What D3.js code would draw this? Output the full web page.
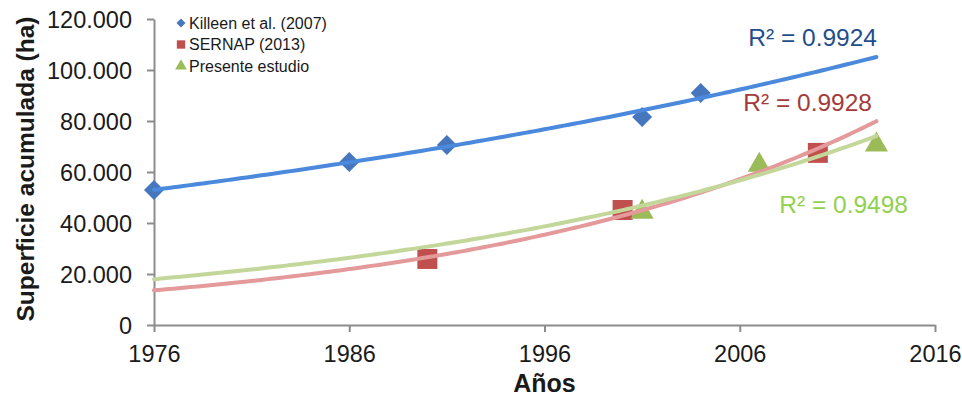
<!DOCTYPE html>
<html>
<head>
<meta charset="utf-8">
<script src="https://cdn.jsdelivr.net/npm/d3@7"></script>
<style>
  body { margin: 0; background: #fff; }
  svg text { font-family: "Liberation Sans", Arial, sans-serif; }
</style>
</head>
<body>
<div id="chart"></div>
<script>
// data
const killeenYears   = [1976, 1986, 1991, 2001, 2004];
const killeenValues  = [52900, 63900, 70600, 81600, 91000];
const sernapYears    = [1990, 2000, 2010];
const sernapValues   = [25900, 45100, 67500];
const presenteYears  = [2001, 2007, 2013];
const presenteValues = [45100, 63500, 71400];

const seriesNames = ['Killeen et al. (2007)', 'SERNAP (2013)', 'Presente estudio'];
const r2Labels    = ['R² = 0.9924', 'R² = 0.9928', 'R² = 0.9498'];
const xTicks      = [1976, 1986, 1996, 2006, 2016];
const yTicks      = [0, 20000, 40000, 60000, 80000, 100000, 120000];
const trendRange  = [1976, 2013];

const width = 962, height = 400;
const margin = { top: 19, right: 27, bottom: 75, left: 154 };

const svg = d3.select('#chart').append('svg')
  .attr('width', width)
  .attr('height', height);

const x = d3.scaleLinear().domain([1976, 2016]).range([margin.left, width - margin.right]);
const y = d3.scaleLinear().domain([0, 120000]).range([height - margin.bottom, margin.top]);

const locale = d3.formatLocale({ decimal: ',', thousands: '.', grouping: [3], currency: ['', ''] });
const fmt = locale.format(',');

// axes
const xAxis = svg.append('g')
  .attr('transform', `translate(0,${y(0)})`)
  .call(d3.axisBottom(x).tickValues(xTicks).tickFormat(d3.format('d')).tickSize(7).tickSizeOuter(0));
const yAxis = svg.append('g')
  .attr('transform', `translate(${x(1976)},0)`)
  .call(d3.axisLeft(y).tickValues(yTicks).tickFormat(fmt).tickSize(7).tickSizeOuter(0));

[xAxis, yAxis].forEach(g => {
  g.select('.domain').attr('stroke', '#8c8c8c').attr('stroke-width', 2);
  g.selectAll('.tick line').attr('stroke', '#8c8c8c').attr('stroke-width', 2);
  g.selectAll('.tick text').attr('fill', '#1a1a1a').style('font-size', '23.5px');
});
xAxis.selectAll('.tick text').attr('y', 37).attr('dy', 0);
yAxis.selectAll('.tick text').attr('x', -22).attr('dy', '0.35em');

// axis titles
svg.append('text')
  .attr('x', (x(1976) + x(2016)) / 2)
  .attr('y', 392)
  .attr('text-anchor', 'middle')
  .style('font-size', '25px')
  .style('font-weight', 'bold')
  .attr('fill', '#1a1a1a')
  .text('Años');

svg.append('text')
  .attr('transform', 'translate(34,169) rotate(-90)')
  .attr('text-anchor', 'middle')
  .style('font-size', '24.5px')
  .style('font-weight', 'bold')
  .attr('fill', '#1a1a1a')
  .text('Superficie acumulada (ha)');

// exponential fit, same as excel trendline: ln(y) = a + b*x
function expFit(xs, ys) {
  const ls = ys.map(v => Math.log(v));
  const mx = d3.mean(xs), ml = d3.mean(ls);
  let sxy = 0, sxx = 0;
  xs.forEach((v, i) => { sxy += (v - mx) * (ls[i] - ml); sxx += (v - mx) * (v - mx); });
  const b = sxy / sxx, a = ml - b * mx;
  return t => Math.exp(a + b * t);
}

const series = [
  { name: seriesNames[0], xs: killeenYears, ys: killeenValues, marker: '#4677be', trend: '#4a89dc', label: '#1f4e8c', symbol: d3.symbolSquare, rot: 45, size: 200, legendSize: 40, dy: 0, r2: r2Labels[0], lx: 877, ly: 46 },
  { name: seriesNames[1], xs: sernapYears, ys: sernapValues, marker: '#c0504d', trend: '#e4999a', label: '#a33b3a', symbol: d3.symbolSquare, rot: 0, size: 400, legendSize: 70, dy: 0, r2: r2Labels[1], lx: 872, ly: 111 },
  { name: seriesNames[2], xs: presenteYears, ys: presenteValues, marker: '#9bbb59', trend: '#c4d79b', label: '#92d050', symbol: d3.symbolTriangle, rot: 0, size: 230, legendSize: 60, dy: 2, r2: r2Labels[2], lx: 908, ly: 213 }
];

const line = d3.line().x(d => x(d[0])).y(d => y(d[1]));

// markers first, trend lines drawn on top like in excel
series.forEach(s => {
  svg.append('g').selectAll('path')
    .data(s.xs.map((v, i) => [v, s.ys[i]]))
    .join('path')
      .attr('transform', d => `translate(${x(d[0])},${y(d[1]) + s.dy}) rotate(${s.rot})`)
      .attr('d', d3.symbol().type(s.symbol).size(s.size))
      .attr('fill', s.marker);
});

series.forEach(s => {
  const f = expFit(s.xs, s.ys);
  const pts = d3.range(trendRange[0], trendRange[1] + 0.01, 0.25).map(t => [t, f(t)]);
  svg.append('path')
    .attr('d', line(pts))
    .attr('fill', 'none')
    .attr('stroke', s.trend)
    .attr('stroke-width', 4)
    .attr('stroke-linecap', 'round');

  svg.append('text')
    .attr('x', s.lx)
    .attr('y', s.ly)
    .attr('text-anchor', 'end')
    .style('font-size', '24.5px')
    .attr('fill', s.label)
    .text(s.r2);
});

// legend
const legend = svg.append('g').attr('transform', 'translate(181,23)');
series.forEach((s, i) => {
  const row = legend.append('g').attr('transform', `translate(0,${i * 21.5})`);
  row.append('path')
    .attr('transform', `rotate(${s.rot})`)
    .attr('d', d3.symbol().type(s.symbol).size(s.legendSize))
    .attr('fill', s.marker);
  row.append('text')
    .attr('x', 8)
    .attr('dy', '0.35em')
    .style('font-size', '16px')
    .attr('fill', '#1a1a1a')
    .text(s.name);
});
</script>
</body>
</html>
